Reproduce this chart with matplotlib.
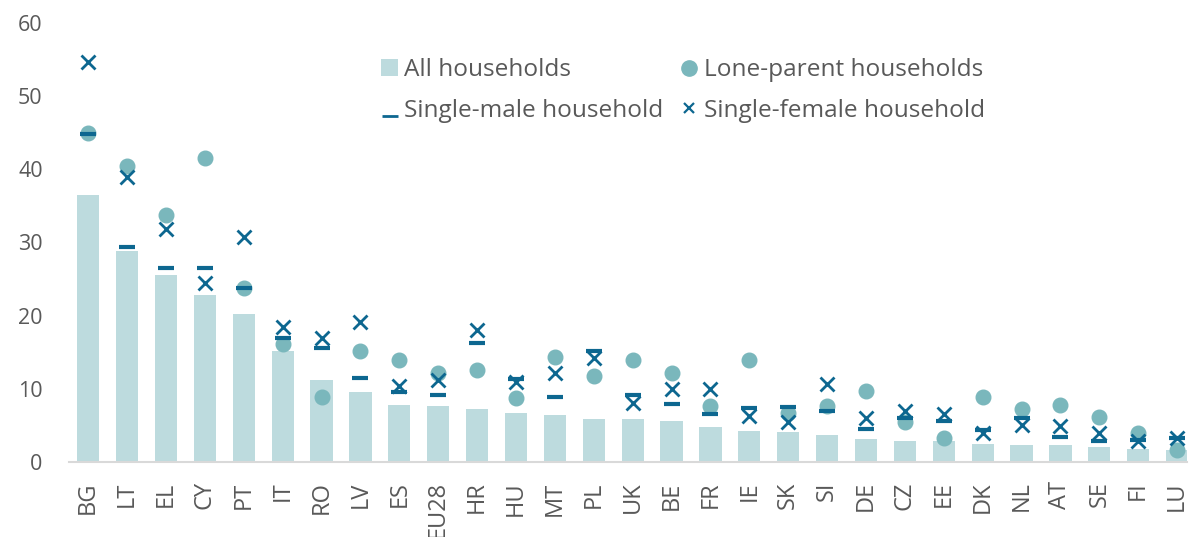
import matplotlib
matplotlib.use("Agg")
import matplotlib.pyplot as plt
from matplotlib.lines import Line2D
from matplotlib.patches import Patch
from matplotlib.path import Path
import numpy as np

countries = ["BG", "LT", "EL", "CY", "PT", "IT", "RO", "LV", "ES", "EU28",
             "HR", "HU", "MT", "PL", "UK", "BE", "FR", "IE", "SK", "SI",
             "DE", "CZ", "EE", "DK", "NL", "AT", "SE", "FI", "LU"]
all_households = [36.5, 28.8, 25.6, 22.8, 20.2, 15.1, 11.2, 9.6, 7.8, 7.6,
                  7.2, 6.7, 6.4, 5.9, 5.8, 5.6, 4.8, 4.2, 4.1, 3.7,
                  3.1, 2.9, 2.8, 2.5, 2.3, 2.3, 2.0, 1.8, 1.6]
lone_parent = [45.0, 40.4, 33.8, 41.5, 23.8, 16.1, 8.8, 15.1, 13.9, 12.1,
               12.6, 8.7, 14.4, 11.7, 13.9, 12.2, 7.7, 13.9, 6.7, 7.6,
               9.7, 5.4, 3.2, 8.9, 7.2, 7.8, 6.1, 4.0, 1.6]
single_male = [44.8, 29.4, 26.5, 26.5, 23.8, 16.9, 15.5, 11.5, 9.5, 9.2,
               16.3, 11.3, 8.8, 15.1, 9.2, 7.9, 6.5, 7.3, 7.5, 6.9,
               4.5, 6.0, 5.6, 4.3, 6.0, 3.4, 2.9, 3.0, 3.2]
single_female = [54.7, 38.9, 31.9, 24.5, 30.8, 18.4, 16.9, 19.1, 10.4, 11.2,
                 18.0, 10.9, 12.1, 14.2, 8.1, 9.9, 9.9, 6.2, 5.4, 10.7,
                 6.0, 7.0, 6.5, 4.0, 5.0, 4.9, 4.0, 2.9, 3.2]

BAR_C = "#bddbde"
DOT_C = "#7ab7bc"
DARK_C = "#0d6790"
TEXT_C = "#595959"

plt.rcParams["font.family"] = ["Open Sans", "DejaVu Sans"]

fig = plt.figure(figsize=(11.92, 5.37), dpi=100)
ax = fig.add_axes([0.058, 0.14, 0.938, 0.817])

x = np.arange(len(countries))
ax.bar(x, all_households, width=0.57, color=BAR_C, zorder=1)
ax.plot(x, lone_parent, ls="none", marker="o", ms=10.5, color=DOT_C, zorder=2)
ax.plot(x, single_male, ls="none", marker="_", ms=12, mew=3, color=DARK_C, zorder=3)
ax.plot(x, single_female, ls="none", marker="x", ms=10, mew=2, color=DARK_C, zorder=4)

ax.set_xlim(-0.49, 28.26)
ax.set_ylim(0, 60)
ax.set_yticks(range(0, 61, 10))
ax.set_xticks(x)
ax.set_xticklabels(countries, rotation=90)
ax.tick_params(axis="both", length=0, colors=TEXT_C)
ax.tick_params(axis="y", labelsize=15.5, pad=19)
ax.tick_params(axis="x", labelsize=17, pad=14)
for side in ("left", "right", "top"):
    ax.spines[side].set_visible(False)
ax.spines["bottom"].set_color("#d9d9d9")
ax.spines["bottom"].set_linewidth(1.5)

# underscore-style handle sitting on the text baseline
underscore = Path([(-1, -1), (1, -1)])
handles = [
    Patch(facecolor=BAR_C, edgecolor="none"),
    Line2D([], [], ls="none", marker=underscore, ms=12, mew=2, color=DARK_C),
    Line2D([], [], ls="none", marker="o", ms=11, color=DOT_C),
    Line2D([], [], ls="none", marker="x", ms=6.5, mew=1.6, color=DARK_C),
]
labels = ["All households", "Single-male household",
          "Lone-parent households", "Single-female household"]
leg = ax.legend(handles, labels, ncol=2, loc="upper left",
                bbox_to_anchor=(369 / 1192, 1 - 46 / 537),
                bbox_transform=fig.transFigure, frameon=False, fontsize=17.6,
                borderpad=0, handlelength=0.68, handleheight=0.68,
                handletextpad=0.24, columnspacing=0.74, labelspacing=0.68)
for t in leg.get_texts():
    t.set_color(TEXT_C)

fig.savefig("out.png", dpi=100)
